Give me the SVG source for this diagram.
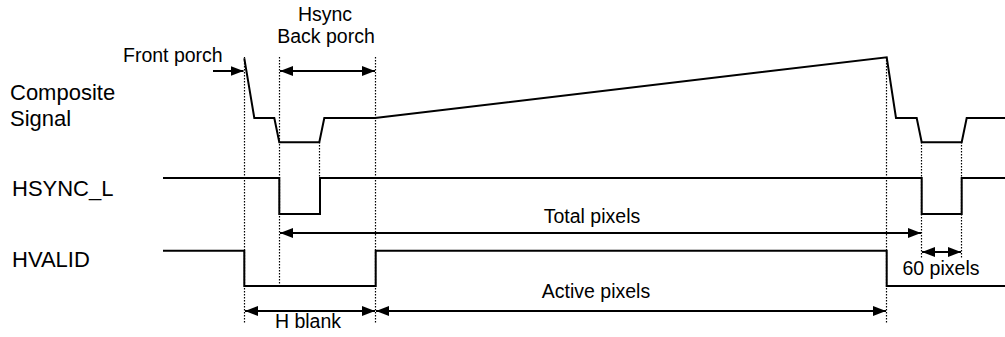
<svg xmlns="http://www.w3.org/2000/svg" width="1005" height="337" viewBox="0 0 1005 337">
<style>
text{font-family:"Liberation Sans",Arial,sans-serif;fill:#000}
.lbl{font-size:22px}
.ann{font-size:19.5px}
.sig{fill:none;stroke:#000;stroke-width:2;stroke-linejoin:miter}
.dot{fill:none;stroke:#000;stroke-width:1.2;stroke-dasharray:1.5,1.5}
.arr{fill:none;stroke:#000;stroke-width:2}
</style>
<defs>
<marker id="ah" markerUnits="userSpaceOnUse" markerWidth="14" markerHeight="10" refX="13" refY="5" orient="auto-start-reverse">
<path d="M0,0 L13,5 L0,10 Z" fill="#000"/>
</marker>
</defs>
<rect width="1005" height="337" fill="#fff"/>
<g id="labels">
<text class="lbl" x="10" y="100">Composite</text>
<text class="lbl" x="10" y="126">Signal</text>
<text class="lbl" x="12" y="196">HSYNC_L</text>
<text class="lbl" x="12" y="267">HVALID</text>
</g>
<g id="guides">
<line class="dot" x1="244.5" y1="57" x2="244.5" y2="323"/>
<line class="dot" x1="279.5" y1="57" x2="279.5" y2="287"/>
<line class="dot" x1="319.5" y1="142" x2="319.5" y2="178"/>
<line class="dot" x1="375.5" y1="57" x2="375.5" y2="323"/>
<line class="dot" x1="886.5" y1="57" x2="886.5" y2="323"/>
<line class="dot" x1="921.5" y1="142" x2="921.5" y2="258"/>
<line class="dot" x1="961.5" y1="142" x2="961.5" y2="258"/>
</g>
<g id="composite">
<polyline class="sig" points="244.3,58.3 254.3,118 274.3,118 279.3,142.3 319.3,142.3 324.3,118 375,118 886.7,57.3 896,118 916.7,118 921.7,142.3 961.7,142.3 966.7,118 1005,118"/>
</g>
<g id="hsync_l">
<polyline class="sig" points="163,178 279.3,178 279.3,214 320,214 320,178 921.7,178 921.7,214 961.7,214 961.7,178 1005,178"/>
</g>
<g id="hvalid">
<polyline class="sig" points="163,250.7 244.3,250.7 244.3,286 375.7,286 375.7,250.7 886.7,250.7 886.7,286 1005,286"/>
</g>
<g id="connectors">
<line class="arr" x1="213" y1="71" x2="243.5" y2="71" marker-end="url(#ah)"/>
<line class="arr" x1="280" y1="71" x2="375" y2="71" marker-start="url(#ah)" marker-end="url(#ah)"/>
<line class="arr" x1="280" y1="233" x2="921" y2="233" marker-start="url(#ah)" marker-end="url(#ah)"/>
<line class="arr" x1="922" y1="252" x2="961" y2="252" marker-start="url(#ah)" marker-end="url(#ah)"/>
<line class="arr" x1="245" y1="311" x2="375" y2="311" marker-start="url(#ah)" marker-end="url(#ah)"/>
<line class="arr" x1="376" y1="311" x2="886" y2="311" marker-start="url(#ah)" marker-end="url(#ah)"/>
</g>
<g id="annotations">
<text class="ann" x="123" y="62">Front porch</text>
<text class="ann" x="325" y="21" text-anchor="middle">Hsync</text>
<text class="ann" x="326" y="43" text-anchor="middle">Back porch</text>
<text class="ann" x="592" y="223" text-anchor="middle">Total pixels</text>
<text class="ann" x="596" y="298" text-anchor="middle">Active pixels</text>
<text class="ann" x="308" y="328" text-anchor="middle">H blank</text>
<text class="ann" x="941" y="275" text-anchor="middle">60 pixels</text>
</g>
</svg>
